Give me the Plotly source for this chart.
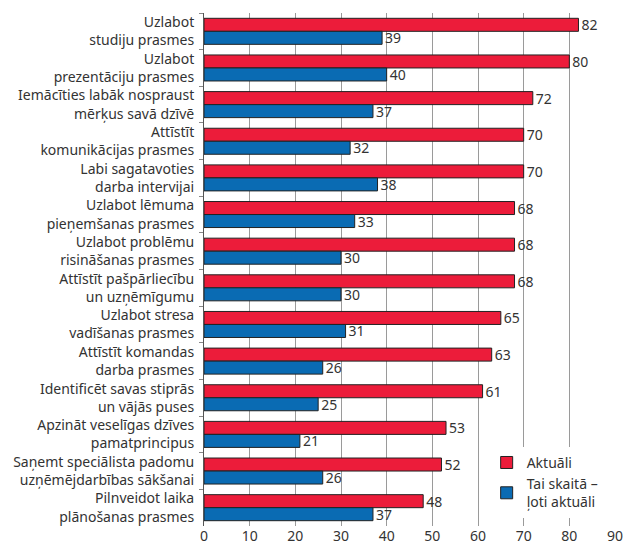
import plotly.graph_objects as go

categories = [
    "Uzlabot<br>studiju prasmes",
    "Uzlabot<br>prezentāciju prasmes",
    "Iemācīties labāk nospraust<br>mērķus savā dzīvē",
    "Attīstīt<br>komunikācijas prasmes",
    "Labi sagatavoties<br>darba intervijai",
    "Uzlabot lēmuma<br>pieņemšanas prasmes",
    "Uzlabot problēmu<br>risināšanas prasmes",
    "Attīstīt pašpārliecību<br>un uzņēmīgumu",
    "Uzlabot stresa<br>vadīšanas prasmes",
    "Attīstīt komandas<br>darba prasmes",
    "Identificēt savas stiprās<br>un vājās puses",
    "Apzināt veselīgas dzīves<br>pamatprincipus",
    "Saņemt speciālista padomu<br>uzņēmējdarbības sākšanai",
    "Pilnveidot laika<br>plānošanas prasmes",
]
aktuali = [82, 80, 72, 70, 70, 68, 68, 68, 65, 63, 61, 53, 52, 48]
loti_aktuali = [39, 40, 37, 32, 38, 33, 30, 30, 31, 26, 25, 21, 26, 37]
series_names = ["Aktuāli", "Tai skaitā –<br>ļoti aktuāli"]
x_ticks = [0, 10, 20, 30, 40, 50, 60, 70, 80, 90]

FONT = "Noto Sans"
TXT = "#333333"

fig = go.Figure()
fig.add_trace(go.Bar(
    y=categories, x=aktuali, orientation="h", name=series_names[0],
    marker=dict(color="#EC1C3A", line=dict(color="#222222", width=1)),
    text=aktuali, textposition="outside", cliponaxis=False, constraintext="none",
    textfont=dict(family=FONT, size=14, color=TXT),
))
fig.add_trace(go.Bar(
    y=categories, x=loti_aktuali, orientation="h", name=series_names[1],
    marker=dict(color="#0A6BB3", line=dict(color="#222222", width=1)),
    text=loti_aktuali, textposition="outside", cliponaxis=False, constraintext="none",
    textfont=dict(family=FONT, size=14, color=TXT),
))

fig.update_layout(
    width=626, height=547,
    margin=dict(l=204, r=11, t=13, b=21),
    barmode="group", bargap=0.29, bargroupgap=0,
    plot_bgcolor="white", paper_bgcolor="white",
    font=dict(family=FONT, size=13, color=TXT),
    showlegend=True,
    legend=dict(
        x=0.97, y=0.085, xanchor="right", yanchor="middle",
        bgcolor="white", font=dict(family=FONT, size=14, color=TXT),
        traceorder="normal", itemwidth=30,
    ),
    uniformtext=dict(minsize=14, mode="show"),
)
fig.update_xaxes(
    range=[0, 90], tickvals=x_ticks, showgrid=True, gridcolor="#9a9a9a",
    gridwidth=1, zeroline=False, showline=False, ticks="",
    tickfont=dict(family=FONT, size=14, color=TXT), fixedrange=True,
    automargin=False,
)
fig.update_yaxes(
    autorange="reversed", showline=True, linecolor="#555555", linewidth=1,
    ticks="outside", ticklen=4, tickcolor="#888888", tickson="boundaries",
    tickfont=dict(family=FONT, size=14, color=TXT), ticklabelstandoff=6,
    showgrid=False, automargin=False,
)
fig.write_html(
    "out.html",
    config={"displayModeBar": False},
    post_script="document.body.style.margin='0';document.body.style.overflow='hidden';",
)
